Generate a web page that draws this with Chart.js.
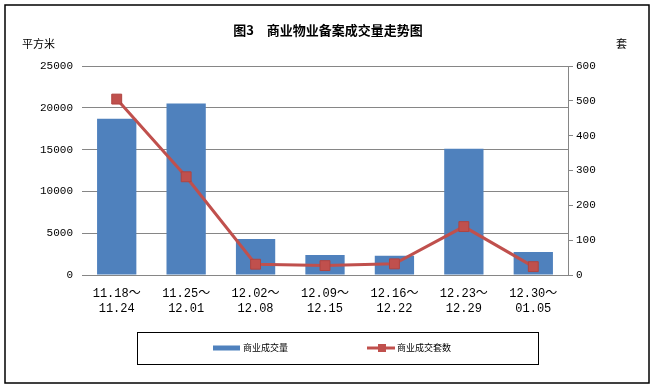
<!DOCTYPE html>
<html>
<head>
<meta charset="utf-8">
<script src="https://cdn.jsdelivr.net/npm/chart.js@4/dist/chart.umd.min.js"></script>
<style>
html,body{margin:0;padding:0;background:#fff;}
#wrap{width:653px;height:387px;}
</style>
</head>
<body>
<div id="wrap"><canvas id="c" width="653" height="387"></canvas></div>
<script>
const titleText = '图3　商业物业备案成交量走势图';
const leftUnit = '平方米';
const rightUnit = '套';
const weekStart = ['11.18～','11.25～','12.02～','12.09～','12.16～','12.23～','12.30～'];
const weekEnd   = ['11.24','12.01','12.08','12.15','12.22','12.29','01.05'];
const areaLabel = '商业成交量';
const unitsLabel = '商业成交套数';
const areaValues = [18700, 20500, 4300, 2400, 2300, 15100, 2750];
const unitValues = [505, 282, 31, 27, 32, 139, 24];
const leftTicks = [0, 5000, 10000, 15000, 20000, 25000];
const rightTicks = [0, 100, 200, 300, 400, 500, 600];

const labels = weekStart.map((s, i) => [s, weekEnd[i]]);
const GRID = '#868686';
const BAR = '#4F81BD';
const LINE = '#C0504D';
const NUMFONT = '"Liberation Mono", "Noto Sans CJK SC", monospace';

const decor = {
  id: 'decor',
  afterDraw(chart) {
    const ctx = chart.ctx;
    ctx.save();
    // outer frame
    ctx.strokeStyle = '#000';
    ctx.lineWidth = 1.5;
    ctx.strokeRect(5, 5, 644, 378);
    // title
    ctx.fillStyle = '#000';
    ctx.font = 'bold 13px "Noto Sans CJK SC"';
    ctx.textAlign = 'center';
    ctx.textBaseline = 'middle';
    ctx.fillText(titleText, 328, 30);
    // units
    ctx.font = '11px "Noto Sans CJK SC"';
    ctx.textAlign = 'left';
    ctx.fillText(leftUnit, 22, 44);
    ctx.fillText(rightUnit, 616, 44);
    // legend box
    ctx.lineWidth = 1;
    ctx.strokeRect(137.5, 332.5, 401, 32);
    const ds0 = chart.data.datasets[0], ds1 = chart.data.datasets[1];
    const ly = 348;
    ctx.fillStyle = ds0.backgroundColor;
    ctx.fillRect(213, ly - 2.5, 27, 5);
    ctx.fillStyle = '#000';
    ctx.font = '9px "Noto Sans CJK SC"';
    ctx.fillText(ds0.label, 243, ly);
    ctx.strokeStyle = ds1.borderColor;
    ctx.lineWidth = 3;
    ctx.beginPath(); ctx.moveTo(367, ly); ctx.lineTo(395, ly); ctx.stroke();
    ctx.fillStyle = ds1.pointBackgroundColor;
    ctx.fillRect(378, ly - 4, 8, 8);
    ctx.fillStyle = '#000';
    ctx.fillText(ds1.label, 397, ly);
    ctx.restore();
  }
};

new Chart(document.getElementById('c'), {
  data: {
    labels: labels,
    datasets: [
      {
        type: 'bar', label: areaLabel, data: areaValues, yAxisID: 'y',
        backgroundColor: BAR, borderWidth: 0,
        barPercentage: 0.566, categoryPercentage: 1.0, order: 2
      },
      {
        type: 'line', label: unitsLabel, data: unitValues, yAxisID: 'y1',
        borderColor: LINE, borderWidth: 3, tension: 0,
        pointStyle: 'rect', pointRadius: 7, pointBackgroundColor: LINE,
        pointBorderColor: '#B04440', pointBorderWidth: 1, order: 1
      }
    ]
  },
  options: {
    responsive: false,
    animation: false,
    devicePixelRatio: 1,
    layout: { padding: { top: 66, left: 0, right: 0, bottom: 0 } },
    plugins: { legend: { display: false }, title: { display: false }, tooltip: { enabled: false } },
    scales: {
      x: {
        grid: { display: false, drawTicks: false },
        border: { display: false },
        ticks: { color: '#000', font: { family: NUMFONT, size: 12 }, padding: 12, maxRotation: 0, autoSkip: false },
        afterFit(s) { s.height = 112; }
      },
      y: {
        position: 'left', min: 0, max: 25000,
        afterBuildTicks(s) { s.ticks = leftTicks.map(v => ({ value: v })); },
        grid: { color: GRID, lineWidth: 1, drawTicks: false },
        border: { display: false },
        ticks: { color: '#000', font: { family: NUMFONT, size: 11 }, padding: 9, callback: v => String(v) },
        afterFit(s) { s.width = 82; }
      },
      y1: {
        position: 'right', min: 0, max: 600,
        afterBuildTicks(s) { s.ticks = rightTicks.map(v => ({ value: v })); },
        grid: { drawOnChartArea: false, color: GRID, tickLength: 5 },
        border: { display: true, color: GRID },
        ticks: { color: '#000', font: { family: NUMFONT, size: 11 }, padding: 3, callback: v => String(v) },
        afterFit(s) { s.width = 85; }
      }
    }
  },
  plugins: [decor]
});
</script>
</body>
</html>
